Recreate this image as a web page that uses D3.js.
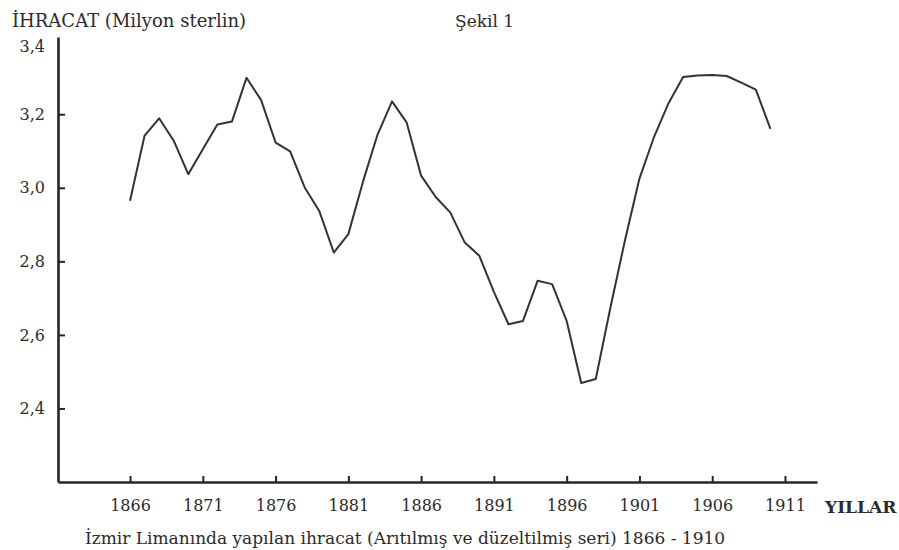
<!DOCTYPE html>
<html>
<head>
<meta charset="utf-8">
<script src="https://cdn.jsdelivr.net/npm/d3@7"></script>
<style>
  body { margin: 0; background: #fff; }
  svg text { font-family: "DejaVu Serif", serif; fill: #2b2b2b; }
</style>
</head>
<body>
<svg width="899" height="550"></svg>
<script>
const years = [1866, 1867, 1868, 1869, 1870, 1871, 1872, 1873, 1874, 1875,
    1876, 1877, 1878, 1879, 1880, 1881, 1882, 1883, 1884, 1885,
    1886, 1887, 1888, 1889, 1890, 1891, 1892, 1893, 1894, 1895,
    1896, 1897, 1898, 1899, 1900, 1901, 1902, 1903, 1904, 1905,
    1906, 1907, 1908, 1909, 1910];

const ihracat = [2.965, 3.142, 3.189, 3.128, 3.037, 3.105, 3.172, 3.180, 3.299, 3.239,
    3.123, 3.099, 3.001, 2.937, 2.824, 2.874, 3.016, 3.144, 3.235, 3.178,
    3.033, 2.975, 2.933, 2.851, 2.815, 2.717, 2.629, 2.638, 2.747, 2.738,
    2.638, 2.469, 2.480, 2.673, 2.856, 3.025, 3.138, 3.230, 3.301, 3.305,
    3.307, 3.304, 3.286, 3.267, 3.160];

const xTicks = [1866, 1871, 1876, 1881, 1886, 1891, 1896, 1901, 1906, 1911];
const yTicks = [2.4, 2.6, 2.8, 3.0, 3.2, 3.4];

const svg = d3.select("svg");

const marginLeft = 58, plotRight = 817, plotTop = 37, plotBottom = 482;

const x = d3.scaleLinear()
    .domain([1861.05, 1913.2])
    .range([marginLeft, plotRight]);

const y = d3.scaleLinear()
    .domain([2.2, 3.41])
    .range([plotBottom, plotTop]);

const comma = d => d3.format(".1f")(d).replace(".", ",");

// y axis, ticks pointing inwards
const yAxis = svg.append("g")
    .attr("transform", `translate(${marginLeft}, 0)`)
    .call(d3.axisLeft(y)
        .tickValues(yTicks)
        .tickFormat(comma)
        .tickSizeInner(-7)
        .tickSizeOuter(0)
        .tickPadding(13));

// no tick mark at the top, and its label sits a little lower
const topTick = yAxis.selectAll(".tick").filter(d => d === 3.4);
topTick.select("line").remove();
topTick.select("text").attr("dy", "0.7em");

// x axis
const xAxis = svg.append("g")
    .attr("transform", `translate(0, ${plotBottom})`)
    .call(d3.axisBottom(x)
        .tickValues(xTicks)
        .tickFormat(d3.format("d"))
        .tickSizeInner(-6)
        .tickSizeOuter(0)
        .tickPadding(18));

svg.selectAll(".domain")
    .attr("stroke", "#262626")
    .attr("stroke-width", 2.6);
svg.selectAll(".tick line")
    .attr("stroke", "#262626")
    .attr("stroke-width", 2);
svg.selectAll(".tick text")
    .style("font-family", "DejaVu Serif")
    .style("font-size", "16px")
    .attr("fill", "#2b2b2b");

// the series
const line = d3.line()
    .x((d, i) => x(years[i]))
    .y(d => y(d));

svg.append("path")
    .datum(ihracat)
    .attr("d", line)
    .attr("fill", "none")
    .attr("stroke", "#333")
    .attr("stroke-width", 2)
    .attr("stroke-linejoin", "round");

// labels
svg.append("text")
    .attr("x", 12)
    .attr("y", 27)
    .style("font-size", "18px")
    .text("İHRACAT (Milyon sterlin)");

svg.append("text")
    .attr("x", 455)
    .attr("y", 27)
    .style("font-size", "17px")
    .text("Şekil 1");

svg.append("text")
    .attr("x", 825)
    .attr("y", 513)
    .style("font-size", "17px")
    .style("font-weight", "bold")
    .text("YILLAR");

svg.append("text")
    .attr("x", 85)
    .attr("y", 544)
    .style("font-size", "17px")
    .text("İzmir Limanında yapılan ihracat (Arıtılmış ve düzeltilmiş seri) 1866 - 1910");
</script>
</body>
</html>
